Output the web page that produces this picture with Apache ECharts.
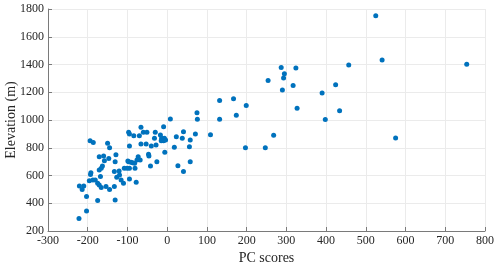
<!DOCTYPE html>
<html>
<head>
<meta charset="utf-8">
<script src="https://cdn.jsdelivr.net/npm/echarts@6/dist/echarts.min.js"></script>
<style>html,body{margin:0;padding:0;background:#fff}#c{width:500px;height:269px}</style>
</head>
<body>
<div id="c"></div>
<script>
var pcScores = [-222,-203,-203,-221,-210,-214,-196,-193,-192,-187,-194,-186,-181,-175,-171,-166,-175,-171,-166,-163,-171,-160,-158,-168,-154,-145,-150,-145,-147,-133,-131,-131,-129,-133,-127,-121,-120,-116,-110,-108,-101,-99,-95,-97,-91,-87,-82,-81,-78,-95,-97,-95,-84,-95,-76,-73,-68,-66,-70,-60,-51,-66,-53,-47,-46,-42,-40,-30,-32,-28,-26,-17,-14,-15,-9,-9,-7,-4,-6,8,18,23,27,38,41,41,56,58,58,71,75,76,109,132,132,167,174,199,197,247,254,287,295,293,324,290,317,327,390,424,434,398,457,525,541,754,268,575];
var elevation = [290,345,448,525,525,500,563,608,620,568,851,837,568,544,532,513,419,640,652,669,736,741,707,592,520,500,832,800,722,520,424,700,750,628,587,633,604,568,544,652,652,705,652,700,695,692,688,652,551,575,911,899,887,813,712,736,712,947,887,911,911,827,827,753,741,669,813,911,868,820,700,892,868,851,952,851,868,856,767,1008,803,880,671,868,916,628,808,856,700,899,1053,1005,894,1141,1005,1153,1034,1105,800,800,1285,1378,1333,1302,1374,1216,1249,1085,1194,1254,1067,1003,1397,1752,1433,1402,890,870];
var xTicks = {min:-300, max:800, step:100};
var yTicks = {min:200, max:1800, step:200};

var pts = pcScores.map(function(x,i){return [x, elevation[i]];});
var font = '"Liberation Serif","Times New Roman",serif';
var plain = function(v){return String(v);};
var chart = echarts.init(document.getElementById('c'));
chart.setOption({
  animation:false,
  grid:{left:48,right:15,top:9,bottom:38,containLabel:false,outerBoundsMode:'none'},
  xAxis:{type:'value',min:xTicks.min,max:xTicks.max,interval:xTicks.step,
    name:'PC scores',nameLocation:'middle',nameGap:20,nameMoveOverlap:false,
    nameTextStyle:{fontFamily:font,fontSize:14,color:'#262626'},
    axisLine:{show:true,onZero:false,lineStyle:{color:'#7a7a7a',width:1}},
    axisTick:{show:true,inside:true,length:4,lineStyle:{color:'#7a7a7a'}},
    axisLabel:{fontFamily:font,fontSize:12,color:'#262626',margin:4,formatter:plain},
    splitLine:{show:true,lineStyle:{color:'#ebebeb',width:1}}},
  yAxis:{type:'value',min:yTicks.min,max:yTicks.max,interval:yTicks.step,
    name:'Elevation (m)',nameLocation:'middle',nameGap:30,nameMoveOverlap:false,
    nameTextStyle:{fontFamily:font,fontSize:14,color:'#262626'},
    axisLine:{show:true,onZero:false,lineStyle:{color:'#7a7a7a',width:1}},
    axisTick:{show:true,inside:true,length:4,lineStyle:{color:'#7a7a7a'}},
    axisLabel:{fontFamily:font,fontSize:12,color:'#262626',margin:4,formatter:plain},
    splitLine:{show:true,lineStyle:{color:'#ebebeb',width:1}}},
  series:[{type:'scatter',data:pts,symbolSize:5,itemStyle:{color:'#0072BD',opacity:1}}]
});
</script>
</body>
</html>
